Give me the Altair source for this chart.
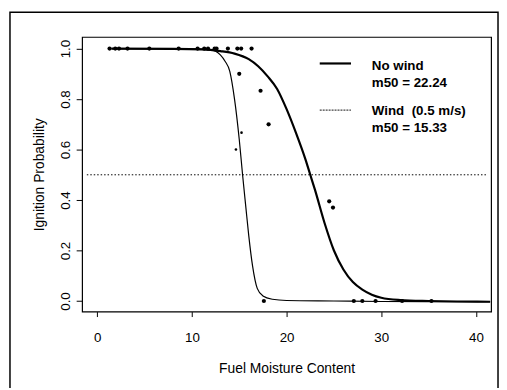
import altair as alt
import pandas as pd

# ---- data ----
# fitted curve, no wind (m50 = 22.24)
nowind_x = [1.5, 8, 11, 13, 14.5, 16, 17, 18, 19, 20, 21, 22, 22.5, 23, 24, 25, 26, 27, 28, 29, 30, 32, 35, 38, 41.5]
nowind_p = [1.0, 0.999, 0.997, 0.99, 0.98, 0.958, 0.93, 0.89, 0.84, 0.76, 0.665, 0.56, 0.50, 0.44, 0.31, 0.20, 0.125, 0.075, 0.045, 0.025, 0.013, 0.004, 0.0, -0.002, -0.003]
# fitted curve, wind 0.5 m/s (m50 = 15.33)
wind_x = [1.5, 10, 12, 12.5, 13, 13.5, 14, 14.5, 15, 15.35, 15.7, 16, 16.4, 16.9, 17.5, 18.5, 20, 25, 30, 41.5]
wind_p = [1.0, 0.999, 0.995, 0.99, 0.975, 0.95, 0.91, 0.80, 0.64, 0.50, 0.37, 0.26, 0.14, 0.05, 0.02, 0.007, 0.002, 0.0, -0.002, -0.003]

# observations (large dots)
obs_x = [1.3, 1.9, 2.3, 3.2, 5.5, 8.6, 10.6, 11.3, 11.7, 12.4, 12.6, 13.8, 14.8, 15.2, 16.3,
         15.0, 17.25, 18.1, 24.5, 24.9,
         17.6, 27.1, 28.0, 29.4, 32.2, 35.3]
obs_p = [1.0, 1.0, 1.0, 1.0, 1.0, 1.0, 1.0, 1.0, 1.0, 1.0, 1.0, 1.0, 1.0, 1.0, 1.0,
         0.90, 0.833, 0.70, 0.395, 0.37,
         0.0, 0.0, 0.0, 0.0, 0.0, 0.0]
# observations (small dots)
small_x = [15.24, 14.65]
small_p = [0.667, 0.60]

NB = "\u00a0"
legend_labels = ["No wind", NB + "m50 = 22.24", "Wind" + NB + NB + "(0.5 m/s)", NB + "m50 = 15.33"]
legend_text_x = [29.0, 29.0, 29.0, 29.0]
legend_text_y = [0.932, 0.865, 0.752, 0.685]
legend_line_x0 = [23.5, 23.5]
legend_line_x1 = [26.8, 26.8]
legend_line_y = [0.941, 0.756]

ref_level = [0.5]

FONT = "Liberation Sans"

xscale = alt.Scale(domain=[-1.6, 41.6], nice=False, zero=False)
yscale = alt.Scale(domain=[-0.042, 1.046], nice=False, zero=False)
xaxis = alt.Axis(values=[0, 10, 20, 30, 40], title="Fuel Moisture Content", grid=False, domain=False,
                 tickSize=5, tickColor="black", labelFontSize=13.5, labelPadding=14, labelColor="black",
                 labelFont=FONT, titleFont=FONT, titleFontSize=14, titleFontWeight="normal",
                 titleColor="black", titlePadding=18, format="d")
yaxis = alt.Axis(values=[0, 0.2, 0.4, 0.6, 0.8, 1.0], title="Ignition Probability", grid=False, domain=False,
                 tickSize=6, tickColor="black", labelFontSize=13.5, labelPadding=4, labelColor="black",
                 labelAngle=270, labelAlign="center", labelBaseline="bottom", format=".1f",
                 labelFont=FONT, titleFont=FONT, titleFontSize=14, titleFontWeight="normal",
                 titleColor="black", titlePadding=12)


def X(field="x"):
    return alt.X(f"{field}:Q", scale=xscale, axis=xaxis)


def Y(field="y"):
    return alt.Y(f"{field}:Q", scale=yscale, axis=yaxis)


curves_nw = pd.DataFrame({"x": nowind_x, "y": nowind_p})
curves_w = pd.DataFrame({"x": wind_x, "y": wind_p})
obs = pd.DataFrame({"x": obs_x, "y": obs_p})
small = pd.DataFrame({"x": small_x, "y": small_p})
leg_text = pd.DataFrame({"x": legend_text_x, "y": legend_text_y, "t": legend_labels})
leg_lines = pd.DataFrame({"x": legend_line_x0, "x2": legend_line_x1, "y": legend_line_y,
                          "kind": ["nowind", "wind"]})
ref = pd.DataFrame({"x": [-1.1], "x2": [41.2], "y": ref_level})

frame = alt.Chart(alt.Data(values=[{"a": 1}])).mark_rect(
    fillOpacity=0, stroke="black", strokeWidth=1.5
).encode(x=alt.value(-73), x2=alt.value(421), y=alt.value(-25), y2=alt.value(420))

ref_line = alt.Chart(ref).mark_rule(color="black", strokeWidth=1, strokeDash=[1.5, 2]).encode(
    x=X(), x2="x2:Q", y=Y())

line_nw = alt.Chart(curves_nw).mark_line(color="black", strokeWidth=2.2, interpolate="monotone").encode(
    x=X(), y=Y())
line_w = alt.Chart(curves_w).mark_line(color="black", strokeWidth=1.2, interpolate="monotone").encode(
    x=X(), y=Y())

pts = alt.Chart(obs).mark_circle(color="black", size=18, opacity=1).encode(x=X(), y=Y())
pts_small = alt.Chart(small).mark_circle(color="black", size=7, opacity=1).encode(x=X(), y=Y())

leg_nw = alt.Chart(leg_lines[leg_lines.kind == "nowind"]).mark_rule(color="black", strokeWidth=2.2).encode(
    x=X(), x2="x2:Q", y=Y())
leg_w = alt.Chart(leg_lines[leg_lines.kind == "wind"]).mark_rule(
    color="#444444", strokeWidth=1.2, strokeDash=[2, 1]).encode(x=X(), x2="x2:Q", y=Y())

texts = alt.Chart(leg_text).mark_text(align="left", baseline="middle", font=FONT, fontSize=13.5,
                                      fontWeight="bold", color="black").encode(
    x=X(), y=Y(), text="t:N")

chart = alt.layer(frame, ref_line, line_w, line_nw, pts, pts_small, leg_nw, leg_w, texts).properties(
    width=414, height=278,
    autosize=alt.AutoSizeParams(type="none"),
    padding={"left": 75, "top": 27, "right": 8, "bottom": 75},
    background="white",
).configure_view(stroke="black", strokeWidth=1.2)

chart.save("out.html", embed_options={"renderer": "svg", "actions": False})
